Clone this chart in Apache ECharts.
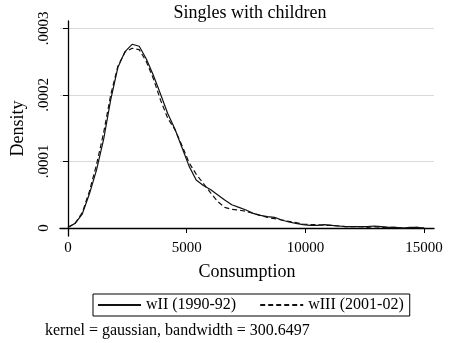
<!DOCTYPE html>
<html>
<head>
<meta charset="utf-8">
<script src="https://cdn.jsdelivr.net/npm/echarts@6/dist/echarts.min.js"></script>
<style>
  html, body { margin: 0; padding: 0; background: #fff; }
  #chart { width: 450px; height: 343px; }
</style>
</head>
<body>
<div id="chart"></div>
<script>
// consumption grid of the kernel estimate
var consumption = [0, 300, 600, 900, 1200, 1500, 1800, 2100, 2400, 2700,
  3000, 3300, 3600, 3900, 4200, 4500, 4800, 5100, 5400, 5700,
  6000, 6300, 6600, 6900, 7200, 7500, 7800, 8100, 8400, 8700,
  9000, 9300, 9600, 9900, 10200, 10500, 10800, 11100, 11400, 11700,
  12000, 12300, 12600, 12900, 13200, 13500, 13800, 14100, 14400, 14700, 15000];

// wII (1990-92), solid line
var densityWII = [0.000001, 0.000007, 0.000021, 0.000051, 0.000087, 0.000133, 0.000193, 0.000241, 0.000265, 0.000276,
  0.000273, 0.000254, 0.000229, 0.000201, 0.000172, 0.000149, 0.000121, 0.000093, 0.000072, 0.000064,
  0.000058, 0.000050, 0.000042, 0.000035, 0.000031, 0.000027, 0.000022, 0.000019, 0.000017, 0.000016,
  0.000012, 0.000009, 0.000007, 0.000005, 0.000004, 0.000004, 0.000005, 0.000004, 0.000003, 0.000002,
  0.000002, 0.000002, 0.000002, 0.000003, 0.000002, 0.000001, 0.000001, 0.000000, 0.000001, 0.000001, 0.000000];

// wIII (2001-02), dashed line
var densityWIII = [0.000001, 0.000007, 0.000023, 0.000055, 0.000095, 0.000143, 0.000200, 0.000243, 0.000264, 0.000270,
  0.000268, 0.000250, 0.000224, 0.000192, 0.000165, 0.000148, 0.000124, 0.000098, 0.000081, 0.000067,
  0.000053, 0.000040, 0.000031, 0.000028, 0.000027, 0.000025, 0.000022, 0.000019, 0.000016, 0.000014,
  0.000012, 0.000010, 0.000008, 0.000006, 0.000005, 0.000005, 0.000004, 0.000004, 0.000003, 0.000002,
  0.000002, 0.000002, 0.000001, 0.000002, 0.000001, 0.000001, 0.000001, 0.000000, 0.000000, 0.000001, 0.000000];

var xTicks = [0, 5000, 10000, 15000];
var yTicks = [0, 0.0001, 0.0002, 0.0003];

function pairs(ys) {
  var out = [];
  for (var i = 0; i < consumption.length; i++) {
    out.push([consumption[i], ys[i]]);
  }
  return out;
}

var font = 'Liberation Serif';
var chart = echarts.init(document.getElementById('chart'));
chart.setOption({
  animation: false,
  textStyle: { fontFamily: font, color: '#000' },
  title: [
    {
      text: 'Singles with children',
      left: 245, top: -1, textAlign: 'center',
      textStyle: { fontFamily: font, fontSize: 18, fontWeight: 'normal', color: '#000' }
    },
    {
      text: 'kernel = gaussian, bandwidth = 300.6497',
      left: 40, top: 318,
      textStyle: { fontFamily: font, fontSize: 16, fontWeight: 'normal', color: '#000' }
    }
  ],
  legend: {
    left: 93, top: 294,
    padding: [3, 6, 3, 4],
    itemGap: 23,
    itemWidth: 43,
    itemHeight: 14,
    borderColor: '#000',
    borderWidth: 1,
    borderRadius: 0,
    itemStyle: { opacity: 0 },
    textStyle: { fontFamily: font, fontSize: 16, color: '#000' },
    data: ['wII (1990-92)', 'wIII (2001-02)']
  },
  grid: { left: 60, right: 16, top: 21, bottom: 107 },
  xAxis: {
    type: 'value',
    min: -337, max: 15417,
    name: 'Consumption',
    nameLocation: 'middle',
    nameGap: 27,
    nameTextStyle: { fontFamily: font, fontSize: 18, color: '#000' },
    axisLine: { show: true, lineStyle: { color: '#000', width: 1.3 } },
    axisTick: { show: true, length: 5, customValues: xTicks, lineStyle: { color: '#000' } },
    axisLabel: {
      customValues: xTicks, margin: 5, fontFamily: font, fontSize: 15, color: '#000',
      formatter: function (v) { return String(v); }
    },
    splitLine: { show: false }
  },
  yAxis: {
    type: 'value',
    min: -0.000012, max: 0.000311,
    name: 'Density',
    nameLocation: 'middle',
    nameGap: 33,
    nameTextStyle: { fontFamily: font, fontSize: 18, color: '#000' },
    axisLine: { show: true, lineStyle: { color: '#000', width: 1.3 } },
    axisTick: { show: true, length: 5, customValues: yTicks, lineStyle: { color: '#000' } },
    axisLabel: {
      customValues: yTicks, rotate: 90, margin: 8,
      fontFamily: font, fontSize: 15, color: '#000',
      formatter: function (v) { return v === 0 ? '0' : String(v).replace(/^0\./, '.'); }
    },
    splitLine: { show: true, lineStyle: { color: '#d9d9d9', width: 1 } }
  },
  series: [
    {
      name: 'wII (1990-92)',
      type: 'line',
      data: pairs(densityWII),
      symbol: 'none',
      lineStyle: { color: '#111', width: 1.2, type: 'solid' },
      itemStyle: { color: '#111' }
    },
    {
      name: 'wIII (2001-02)',
      type: 'line',
      data: pairs(densityWIII),
      symbol: 'none',
      lineStyle: { color: '#111', width: 1.2, type: [5, 3] },
      itemStyle: { color: '#111' }
    }
  ]
});
</script>
</body>
</html>
